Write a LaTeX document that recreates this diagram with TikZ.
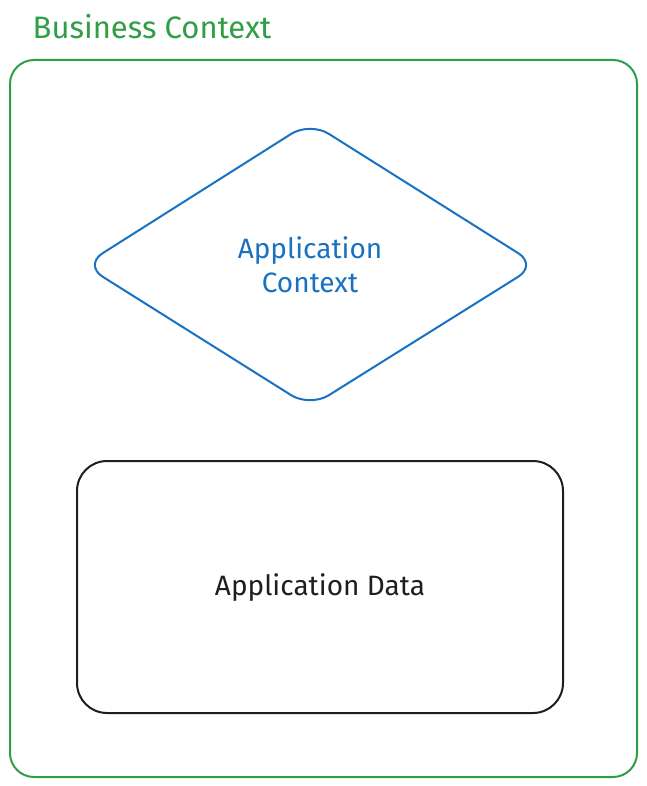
\documentclass[tikz,border=0pt]{standalone}
\usepackage{fontspec}
\setmainfont{Fira Sans}
\usetikzlibrary{positioning}
\definecolor{exgreen}{HTML}{2F9E44}
\definecolor{exblue}{HTML}{1971C2}
\definecolor{exblack}{HTML}{1E1E1E}
\tikzset{
  frame/.style={draw=exgreen, line width=2pt, rounded corners=24pt},
  dia/.style={draw=exblue, line width=2pt, rounded corners=22pt, line join=round},
  databox/.style={draw=exblack, line width=2pt, rounded corners=30pt},
  lbl/.style={font=\fontsize{28}{34}\selectfont, inner sep=0pt, align=center}
}
\begin{document}
\begin{tikzpicture}[x=1pt,y=-1pt]
\useasboundingbox (0,0) rectangle (646,786);
\node[lbl, text=exgreen, font=\fontsize{31}{34}\selectfont] (title) at (152,27) {Business Context};
\draw[frame] (10,60) rectangle (637,777);
\draw[dia] (310,122) -- (537,265) -- (310,407) -- (84,265) -- cycle;
\node[lbl, text=exblue] (appctx) at (310,265) {Application\\Context};
\draw[databox] (77,461) rectangle (563,713);
\node[lbl, text=exblack] (appdata) at (320,588) {Application Data};
\end{tikzpicture}
\end{document}
